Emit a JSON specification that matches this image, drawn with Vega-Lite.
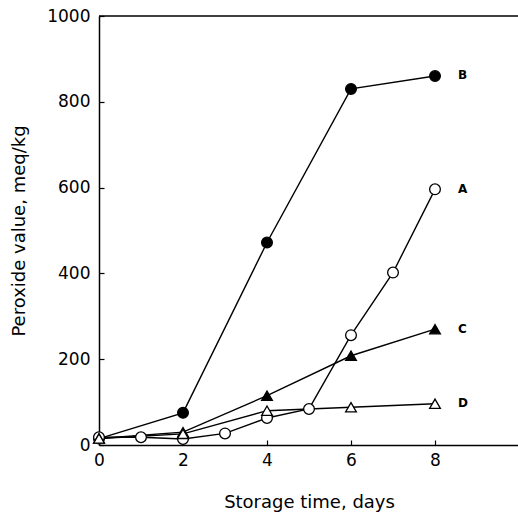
{
  "$schema": "https://vega.github.io/schema/vega-lite/v6.json",
  "autosize": "none",
  "width": 420,
  "height": 429,
  "padding": {"left": 99, "top": 16, "right": 0, "bottom": 68},
  "background": "white",
  "config": {
    "view": {"stroke": null},
    "axis": {"font": "DejaVu Sans", "labelFont": "DejaVu Sans", "titleFont": "DejaVu Sans", "labelColor": "black", "titleColor": "black", "domainColor": "black", "tickColor": "black", "grid": false, "titleFontWeight": "normal", "labelFlush": false, "format": "d"}
  },
  "datasets": {
    "pts": [
      {"day": 0, "pv": 15, "s": "B"}, {"day": 2, "pv": 75, "s": "B"}, {"day": 4, "pv": 472, "s": "B"}, {"day": 6, "pv": 830, "s": "B"}, {"day": 8, "pv": 860, "s": "B"},
      {"day": 0, "pv": 18, "s": "A"}, {"day": 1, "pv": 18, "s": "A"}, {"day": 2, "pv": 14, "s": "A"}, {"day": 3, "pv": 27, "s": "A"}, {"day": 4, "pv": 63, "s": "A"}, {"day": 5, "pv": 84, "s": "A"}, {"day": 6, "pv": 256, "s": "A"}, {"day": 7, "pv": 402, "s": "A"}, {"day": 8, "pv": 596, "s": "A"},
      {"day": 0, "pv": 15, "s": "C"}, {"day": 2, "pv": 30, "s": "C"}, {"day": 4, "pv": 115, "s": "C"}, {"day": 6, "pv": 208, "s": "C"}, {"day": 8, "pv": 270, "s": "C"},
      {"day": 0, "pv": 15, "s": "D"}, {"day": 2, "pv": 26, "s": "D"}, {"day": 4, "pv": 80, "s": "D"}, {"day": 6, "pv": 88, "s": "D"}, {"day": 8, "pv": 96, "s": "D"}
    ],
    "labels": [
      {"day": 8.55, "pv": 862, "s": "B"},
      {"day": 8.55, "pv": 597, "s": "A"},
      {"day": 8.55, "pv": 270, "s": "C"},
      {"day": 8.55, "pv": 98, "s": "D"}
    ],
    "top": [{"v": 1000}]
  },
  "layer": [
    {
      "data": {"name": "top"},
      "mark": {"type": "rule", "color": "black", "strokeWidth": 1.5},
      "encoding": {"y": {"field": "v", "type": "quantitative", "scale": {"domain": [0, 1000]}}}
    },
    {
      "data": {"name": "pts"},
      "mark": {"type": "line", "color": "black", "strokeWidth": 1.4},
      "encoding": {
        "x": {"field": "day", "type": "quantitative", "scale": {"domain": [0, 10], "nice": false},
              "axis": {"values": [0, 2, 4, 6, 8], "title": "Storage time, days", "titleFontSize": 18, "titlePadding": 25, "labelFontSize": 17, "tickSize": -5, "labelPadding": 12, "domainWidth": 1.5, "tickWidth": 1.2}},
        "y": {"field": "pv", "type": "quantitative", "scale": {"domain": [0, 1000], "nice": false},
              "axis": {"values": [0, 200, 400, 600, 800, 1000], "title": "Peroxide value, meq/kg", "titleFontSize": 18, "titlePadding": 18, "labelFontSize": 17, "tickSize": -5, "labelPadding": 14, "domainWidth": 1.5, "tickWidth": 1.2}},
        "detail": {"field": "s"}
      }
    },
    {
      "data": {"name": "pts"},
      "mark": {"type": "point", "filled": false, "stroke": "black", "strokeWidth": 1.3, "size": 115, "opacity": 1},
      "encoding": {
        "x": {"field": "day", "type": "quantitative"},
        "y": {"field": "pv", "type": "quantitative"},
        "shape": {"field": "s", "type": "nominal", "scale": {"domain": ["A", "B", "C", "D"], "range": ["circle", "circle", "triangle-up", "triangle-up"]}, "legend": null},
        "fill": {"field": "s", "type": "nominal", "scale": {"domain": ["A", "B", "C", "D"], "range": ["white", "black", "black", "white"]}, "legend": null}
      }
    },
    {
      "data": {"name": "labels"},
      "mark": {"type": "text", "font": "DejaVu Sans", "fontWeight": "bold", "fontSize": 12, "align": "left", "baseline": "middle", "color": "black"},
      "encoding": {
        "x": {"field": "day", "type": "quantitative"},
        "y": {"field": "pv", "type": "quantitative"},
        "text": {"field": "s"}
      }
    }
  ]
}
